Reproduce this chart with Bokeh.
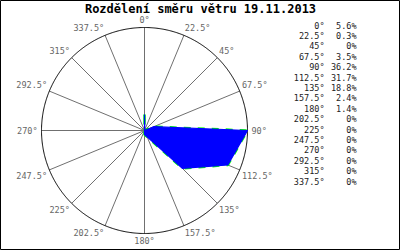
import math
from bokeh.plotting import figure
from bokeh.models import Range1d, ColumnDataSource
from bokeh.core.properties import value
from bokeh.embed import file_html
from bokeh.resources import INLINE

# ---- data ----
title_text = "Rozdělení směru větru 19.11.2013"
directions = [0, 22.5, 45, 67.5, 90, 112.5, 135, 157.5, 180, 202.5, 225, 247.5, 270, 292.5, 315, 337.5]
dir_labels = ["0°", "22.5°", "45°", "67.5°", "90°", "112.5°", "135°", "157.5°", "180°",
              "202.5°", "225°", "247.5°", "270°", "292.5°", "315°", "337.5°"]
percent = [5.6, 0.3, 0, 3.5, 36.2, 31.7, 18.8, 2.4, 1.4, 0, 0, 0, 0, 0, 0, 0]
pct_labels = ["5.6%", "0.3%", "0%", "3.5%", "36.2%", "31.7%", "18.8%", "2.4%", "1.4%",
              "0%", "0%", "0%", "0%", "0%", "0%", "0%"]

# ---- layout ----
W, H = 400, 250
CX, CY = 144, 130          # pixel position of the rose centre
R_PX = 103                 # pixel radius of outer circle
R_MAX = max(percent)       # value at outer circle
K = R_PX / R_MAX           # pixels per percent

def X(px):
    return (px - CX) / K

def Y(py):
    return (CY - py) / K

p = figure(width=W, height=H, output_backend="svg", toolbar_location=None,
           x_range=Range1d(X(0), X(W)), y_range=Range1d(Y(H), Y(0)),
           min_border=0, match_aspect=False)
p.axis.visible = False
p.grid.visible = False
p.background_fill_color = "white"
p.border_fill_color = "white"
p.outline_line_color = "black"
p.outline_line_width = 1

def pol(r, deg):
    a = math.radians(deg)
    return r * math.sin(a), r * math.cos(a)

# spokes
xs, ys = [], []
for d in directions:
    ex, ey = pol(R_MAX, d)
    xs.append([0, ex]); ys.append([0, ey])
p.multi_line(xs, ys, line_color="#707070", line_width=1)

# outer circle
circ = [pol(R_MAX, t / 2.0) for t in range(0, 721)]
p.line([c[0] for c in circ], [c[1] for c in circ], line_color="black", line_width=1)

# data polygon
px_ = [pol(v, d)[0] for v, d in zip(percent, directions)]
py_ = [pol(v, d)[1] for v, d in zip(percent, directions)]
p.patch(px_, py_, fill_alpha=0.0, line_color="#00ff00", line_width=2.5, line_dash="7 7")
p.patch(px_, py_, fill_color="#0000ff", line_color="#0000ff", line_width=1.2)

# direction labels around circle
lx, ly, la, lb, lt = [], [], [], [], []
for d, lab in zip(directions, dir_labels):
    ex, ey = pol(R_MAX + 2.5 / K, d)
    if d == 0 or d == 180:
        al = "center"
    elif d < 180:
        al = "left"
    else:
        al = "right"
    if d == 90 or d == 270:
        bl = "middle"
    elif d < 90 or d > 270:
        bl = "bottom"
    else:
        bl = "top"
    if d in (90,):
        ex += 1.5 / K
    if d in (270,):
        ex -= 1.5 / K
    lx.append(ex); ly.append(ey); la.append(al); lb.append(bl); lt.append(lab)
src = ColumnDataSource(dict(x=lx, y=ly, t=lt, a=la, b=lb))
p.text("x", "y", text="t", source=src, text_align="a", text_baseline="b",
       text_font=value("DejaVu Sans Mono"), text_font_size="8.5px", text_color="#666666")

# legend table
rows_y = [Y(25 + 10.4 * i) for i in range(len(directions))]
p.text([X(324)] * len(dir_labels), rows_y, text=dir_labels, text_align="right",
       text_baseline="middle", text_font=value("DejaVu Sans Mono"),
       text_font_size="8.5px", text_color="#222222")
p.text([X(356)] * len(pct_labels), rows_y, text=pct_labels, text_align="right",
       text_baseline="middle", text_font=value("DejaVu Sans Mono"),
       text_font_size="8.5px", text_color="#222222")

# title
p.text([X(200)], [Y(8)], text=[title_text], text_align="center", text_baseline="middle",
       text_font=value("DejaVu Sans Mono"), text_font_size="12px",
       text_font_style="bold", text_color="black")

open("out.html", "w").write(file_html(p, INLINE))
